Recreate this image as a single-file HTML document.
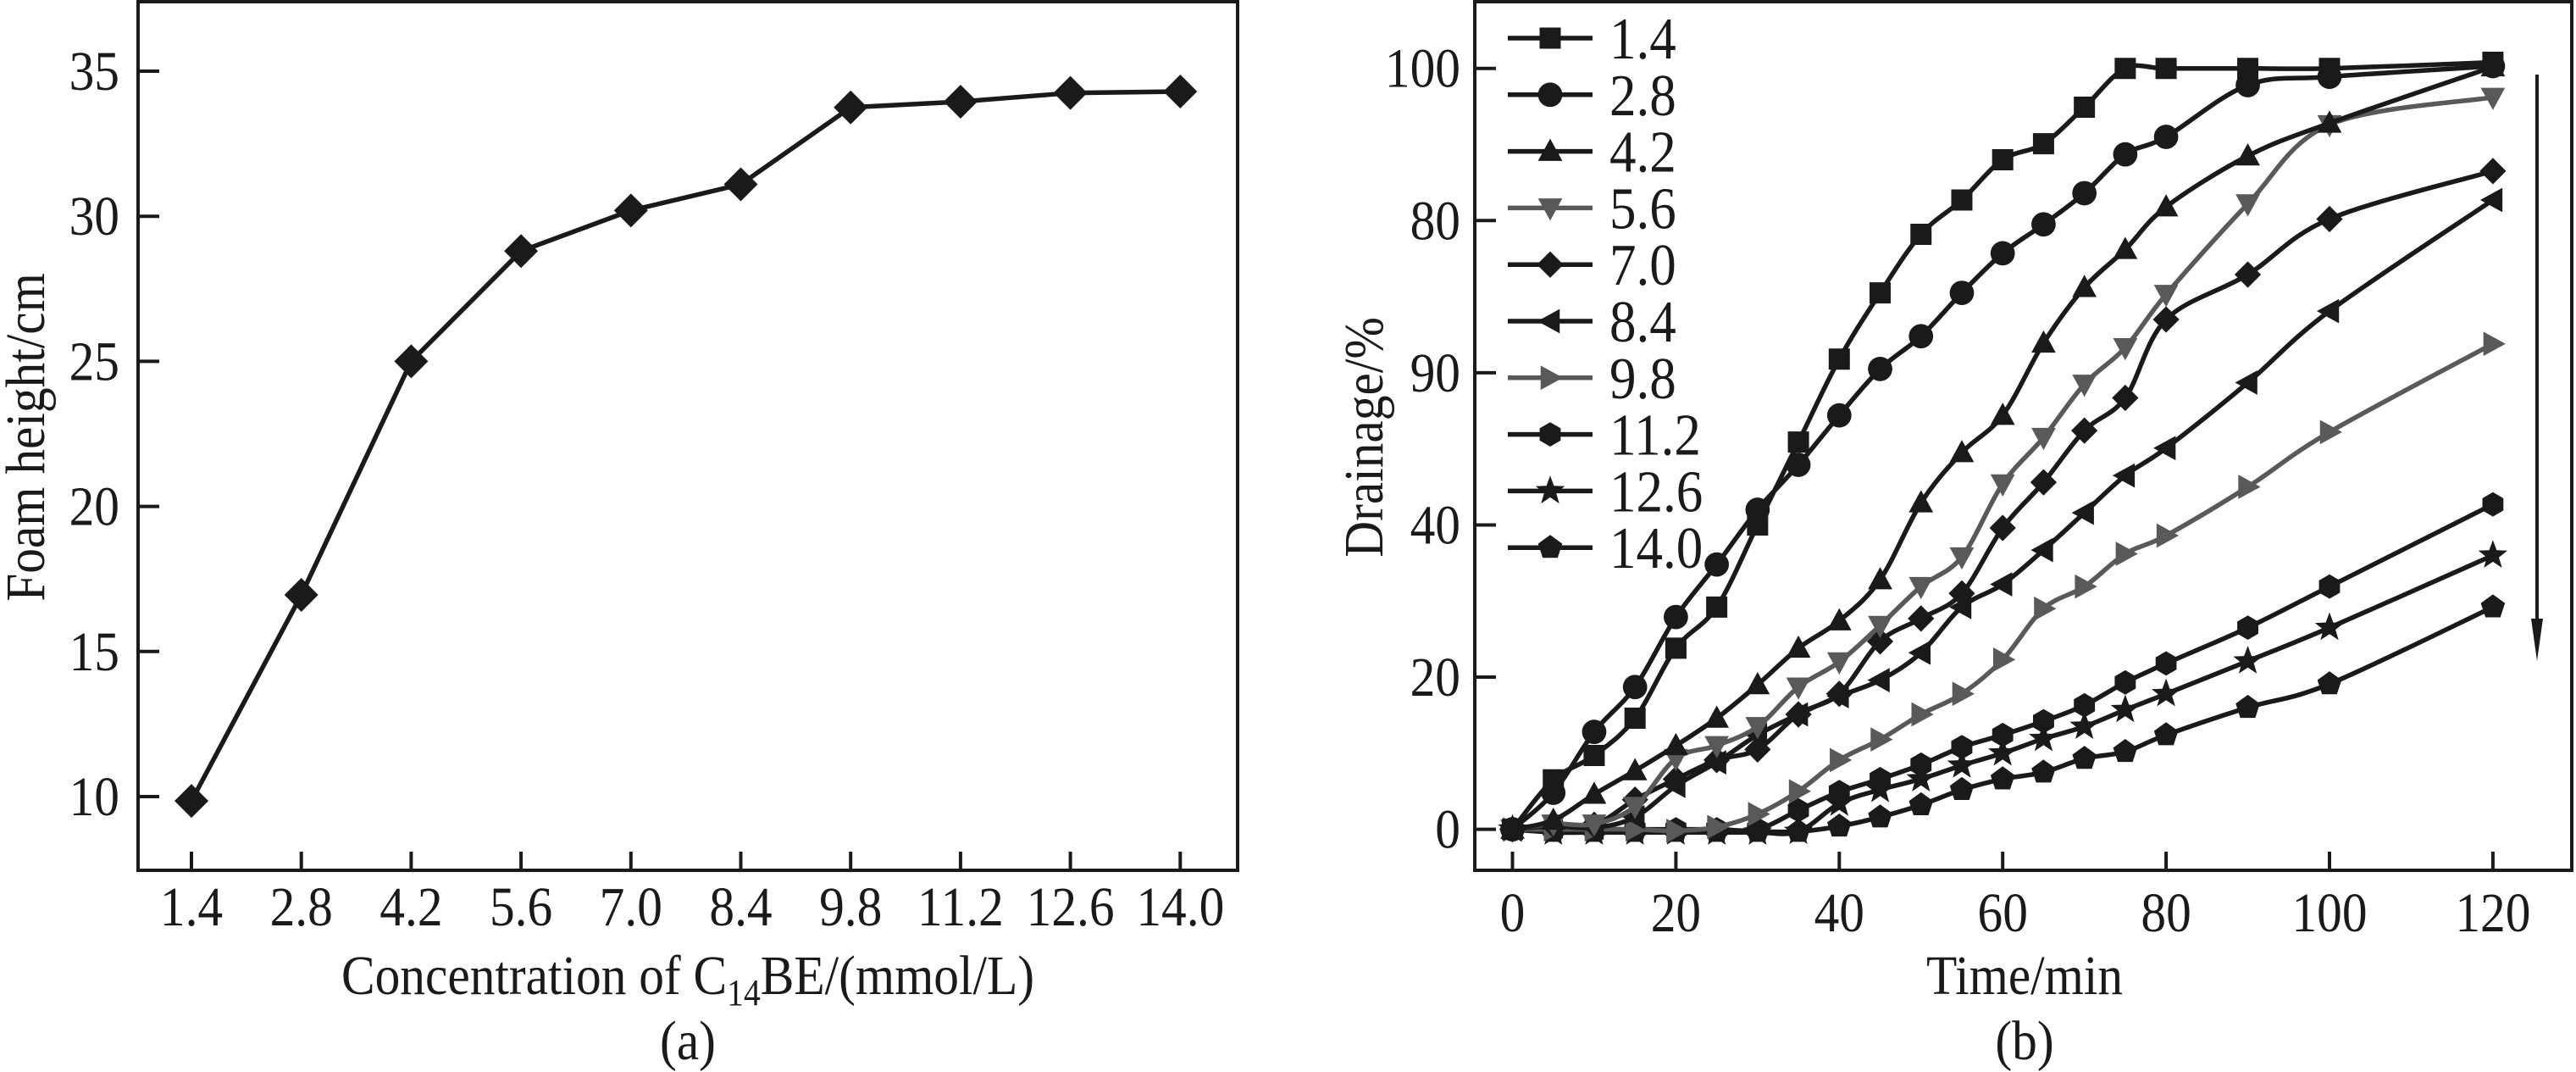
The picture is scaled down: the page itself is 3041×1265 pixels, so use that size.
<!DOCTYPE html>
<html><head><meta charset="utf-8">
<style>
html,body{margin:0;padding:0;background:#fff;}
svg{display:block;}
text{font-family:"Liberation Serif","DejaVu Serif",serif;fill:#1a1a1a;}
</style></head>
<body>
<svg id="fig" width="3041" height="1265" viewBox="0 0 3041 1265" xmlns="http://www.w3.org/2000/svg">
<g id="chartA"></g>
<g id="chartB"></g>
</svg>
<script>
// ---------- Chart (a) data ----------
const concCategories = ["1.4","2.8","4.2","5.6","7.0","8.4","9.8","11.2","12.6","14.0"];
const foamHeights = [9.85, 16.95, 25.0, 28.8, 30.2, 31.1, 33.75, 33.95, 34.25, 34.3];
const foamYTicks = [10, 15, 20, 25, 30, 35];

// ---------- Chart (b) data ----------
const timeTicks = [0, 20, 40, 60, 80, 100, 120];
const drainYTicks = [0, 20, 40, 60, 80, 100];
const drainYTickLabels = ["0", "20", "40", "90", "80", "100"];
const seriesNames = ["1.4","2.8","4.2","5.6","7.0","8.4","9.8","11.2","12.6","14.0"];
const times = [0,5,10,15,20,25,30,35,40,45,50,55,60,65,70,75,80,90,100,120];
const s14  = [0,6.5,9.7,14.6,23.8,29.2,40,50.9,61.8,70.5,78.2,82.7,88,90.1,94.9,100,100,100,100,100.8];
const s28  = [0,4.8,12.8,18.7,27.9,34.8,42,47.9,54.4,60.5,64.8,70.5,75.7,79.5,83.6,88.7,91,97.8,98.9,100.3];
const s42  = [0,1.2,4.6,7.7,11,14.6,19,23.8,27.4,32.8,42.9,49.5,54.4,63.9,71.2,76.2,81.8,88.5,92.8,100.2];
const s56  = [0,0.7,0.7,3,9.3,11,13.5,18.7,22,26.8,31.9,35.8,45.4,51.5,58.5,63.3,70.3,82.2,92.6,96.2];
const s70  = [0,0.6,0.6,3.9,6.6,9.1,10.5,15.1,17.8,24.7,27.7,31,39.6,45.6,52.4,56.7,67,72.9,80.2,86.5];
const s84  = [0,0.4,0.2,1.6,5.7,8.8,12.4,15.1,17.5,19.6,23.2,29.2,32.2,36.7,41.6,46.5,50.1,58.7,68.1,82.7];
const s98  = [0,0,0,0,-0.2,0.3,2,5,9.1,11.8,15.1,17.8,22.3,29,31.9,36.2,38.6,45,52.2,63.8];
const s112 = [0,0,0,0,0,0,0,2.5,4.9,6.6,8.5,10.8,12.4,14.2,16.3,19.3,21.8,26.5,31.9,42.7];
const s126 = [0,-0.4,-0.4,-0.4,-0.4,-0.4,-0.4,-0.3,3.4,5.2,6.6,8.4,10,11.9,13.5,15.7,17.8,22.1,26.5,36];
const s140 = [0,-0.3,-0.3,-0.3,-0.3,-0.3,-0.3,-0.3,0.4,1.6,3.2,5.2,6.6,7.5,9.3,10.2,12.4,16,19.1,29.2];
const allSeries = [s14,s28,s42,s56,s70,s84,s98,s112,s126,s140];
const seriesColors = ["#1a1a1a","#1a1a1a","#1a1a1a","#595959","#1a1a1a","#1a1a1a","#595959","#1a1a1a","#1a1a1a","#1a1a1a"];
const seriesMarkers = ["square","circle","triUp","triDown","diamond","triLeft","triRight","hexagon","star","pentagon"];

const NS = "http://www.w3.org/2000/svg";
const SX = 0.9;
function mk(parent, tag, attrs, txt){
  const e = document.createElementNS(NS, tag);
  for (const k in attrs) e.setAttribute(k, attrs[k]);
  if (txt !== undefined) e.textContent = txt;
  parent.appendChild(e);
  return e;
}
function txt(parent, x, y, s, anchor, size, rot){
  const tr = rot ? `translate(${x},${y}) rotate(-90) scale(${SX},1)` : `translate(${x},${y}) scale(${SX},1)`;
  return mk(parent,"text",{x:0,y:0,"text-anchor":anchor,"font-size":size,transform:tr},s);
}

function markerPath(type, cx, cy, r){
  const pts = [];
  if (type==="square") return `M${cx-r},${cy-r}h${2*r}v${2*r}h${-2*r}Z`;
  if (type==="circle") { const rr=r*1.15; return `M${cx-rr},${cy}a${rr},${rr} 0 1,0 ${2*rr},0a${rr},${rr} 0 1,0 ${-2*rr},0Z`; }
  if (type==="diamond") return `M${cx},${cy-r*1.25}L${cx+r*1.25},${cy}L${cx},${cy+r*1.25}L${cx-r*1.25},${cy}Z`;
  if (type==="triUp") return `M${cx},${cy-r*1.2}L${cx+r*1.15},${cy+r*0.9}L${cx-r*1.15},${cy+r*0.9}Z`;
  if (type==="triDown") return `M${cx},${cy+r*1.2}L${cx+r*1.15},${cy-r*0.9}L${cx-r*1.15},${cy-r*0.9}Z`;
  if (type==="triLeft") return `M${cx-r*1.2},${cy}L${cx+r*0.9},${cy-r*1.15}L${cx+r*0.9},${cy+r*1.15}Z`;
  if (type==="triRight") return `M${cx+r*1.2},${cy}L${cx-r*0.9},${cy-r*1.15}L${cx-r*0.9},${cy+r*1.15}Z`;
  let n, rot;
  if (type==="hexagon"){ n=6; rot=Math.PI/2; for(let i=0;i<n;i++){const a=rot+i*2*Math.PI/n; pts.push([cx+r*1.15*Math.cos(a), cy+r*1.15*Math.sin(a)]);} }
  if (type==="pentagon"){ n=5; rot=-Math.PI/2; for(let i=0;i<n;i++){const a=rot+i*2*Math.PI/n; pts.push([cx+r*1.2*Math.cos(a), cy+r*1.2*Math.sin(a)]);} }
  if (type==="star"){ for(let i=0;i<10;i++){const a=-Math.PI/2+i*Math.PI/5; const rad=(i%2? r*0.6 : r*1.45); pts.push([cx+rad*Math.cos(a), cy+rad*Math.sin(a)]);} }
  return "M"+pts.map(p=>p[0].toFixed(1)+","+p[1].toFixed(1)).join("L")+"Z";
}

function smoothPath(pts){
  let d = `M${pts[0][0]},${pts[0][1]}`;
  for (let i=0;i<pts.length-1;i++){
    const p0=pts[i-1]||pts[i], p1=pts[i], p2=pts[i+1], p3=pts[i+2]||p2;
    const t=6;
    const c1=[p1[0]+(p2[0]-p0[0])/t, p1[1]+(p2[1]-p0[1])/t];
    const c2=[p2[0]-(p3[0]-p1[0])/t, p2[1]-(p3[1]-p1[1])/t];
    d += `C${c1[0].toFixed(1)},${c1[1].toFixed(1)} ${c2[0].toFixed(1)},${c2[1].toFixed(1)} ${p2[0].toFixed(1)},${p2[1].toFixed(1)}`;
  }
  return d;
}

// ================= Chart (a) =================
(function(){
  const g = document.getElementById("chartA");
  const L=163, R=1461, T=2, B=1027;
  const xA = i => 226 + i*129.7;
  const yA = v => 940 - (v-10)*34.24;
  const frame = mk(g,"rect",{x:L,y:T,width:R-L,height:B-T,fill:"none",stroke:"#1a1a1a","stroke-width":4});
  
  
  foamYTicks.forEach(v=>{
    const t = mk(g,"line",{x1:L,x2:L+25,y1:yA(v),y2:yA(v),stroke:"#1a1a1a","stroke-width":4});
    
    
    const lb = txt(g,141,yA(v)+22,String(v),"end",66);
    
    
  });
  concCategories.forEach((c,i)=>{
    const t = mk(g,"line",{x1:xA(i),x2:xA(i),y1:B,y2:B-22,stroke:"#1a1a1a","stroke-width":4});
    
    
    const lb = txt(g,xA(i),1092,c,"middle",66);
    
    
  });
  const pts = foamHeights.map((v,i)=>[xA(i),yA(v)]);
  const line = mk(g,"polyline",{points:pts.map(p=>p.join(",")).join(" "),fill:"none",stroke:"#1a1a1a","stroke-width":5.5,"stroke-linejoin":"round"});
  
  
  pts.forEach(p=>{
    const m = mk(g,"path",{d:markerPath("diamond",p[0],p[1],16),fill:"#1a1a1a"});
    
    
  });
  const yt = txt(g,52,516,"Foam height/cm","middle",66,true);
  
  
  const xt = mk(g,"text",{x:0,y:0,"text-anchor":"middle","font-size":66,transform:`translate(812,1173) scale(${SX},1)`});
  
  
  xt.innerHTML = 'Concentration of C<tspan font-size="44" dy="13">14</tspan><tspan dy="-13">BE/(mmol/L)</tspan>';
  const cap = txt(g,812,1250,"(a)","middle",66);
  
  
})();

// ================= Chart (b) =================
(function(){
  const g = document.getElementById("chartB");
  const L=1741, R=3036, T=2, B=1027;
  const xB = t => 1785.5 + t*9.645;
  const yB = v => 978.6 - v*8.979;
  const frame = mk(g,"rect",{x:L,y:T,width:R-L,height:B-T,fill:"none",stroke:"#1a1a1a","stroke-width":4});
  
  
  drainYTicks.forEach((v,i)=>{
    const t = mk(g,"line",{x1:L,x2:L+25,y1:yB(v),y2:yB(v),stroke:"#1a1a1a","stroke-width":4});
    
    
    const lb = txt(g,1724,yB(v)+22,drainYTickLabels[i],"end",66);
    
    
  });
  timeTicks.forEach(t0=>{
    const t = mk(g,"line",{x1:xB(t0),x2:xB(t0),y1:B,y2:B-22,stroke:"#1a1a1a","stroke-width":4});
    
    
    const lb = txt(g,xB(t0),1099,String(t0),"middle",66);
    
    
  });
  for (let s=allSeries.length-1; s>=0; s--){
    const vals = allSeries[s];
    const pts = vals.map((v,i)=>[xB(times[i]), yB(v)]);
    const sg = mk(g,"g",{});
    
    
    const p = mk(sg,"path",{d:smoothPath(pts),fill:"none",stroke:seriesColors[s],"stroke-width":5.5,"stroke-linejoin":"round"});
    
    
    pts.forEach(pt=>{
      const m = mk(sg,"path",{d:markerPath(seriesMarkers[s],pt[0],pt[1],12.5),fill:seriesColors[s]});
      
      
    });
  }
  const lg = mk(g,"g",{});
  
  
  seriesNames.forEach((nm,i)=>{
    const y = 45 + i*66.8;
    const eg = mk(lg,"g",{});
    
    
    mk(eg,"line",{x1:1780,x2:1880,y1:y,y2:y,stroke:seriesColors[i],"stroke-width":5.5});
    mk(eg,"path",{d:markerPath(seriesMarkers[i],1830,y,12.5),fill:seriesColors[i]});
    txt(eg,1900,y+24,nm,"start",70);
  });
  const ar = mk(g,"g",{});
  
  
  mk(ar,"line",{x1:2995,x2:2995,y1:88,y2:760,stroke:"#1a1a1a","stroke-width":4});
  mk(ar,"path",{d:"M2988,730 L2995,780 L3002,730 Z",fill:"#1a1a1a"});
  const yt = txt(g,1632,516,"Drainage/%","middle",66,true);
  
  
  const xt = txt(g,2390,1173,"Time/min","middle",66);
  
  
  const cap = txt(g,2390,1250,"(b)","middle",66);
  
  
})();
</script>
</body></html>
